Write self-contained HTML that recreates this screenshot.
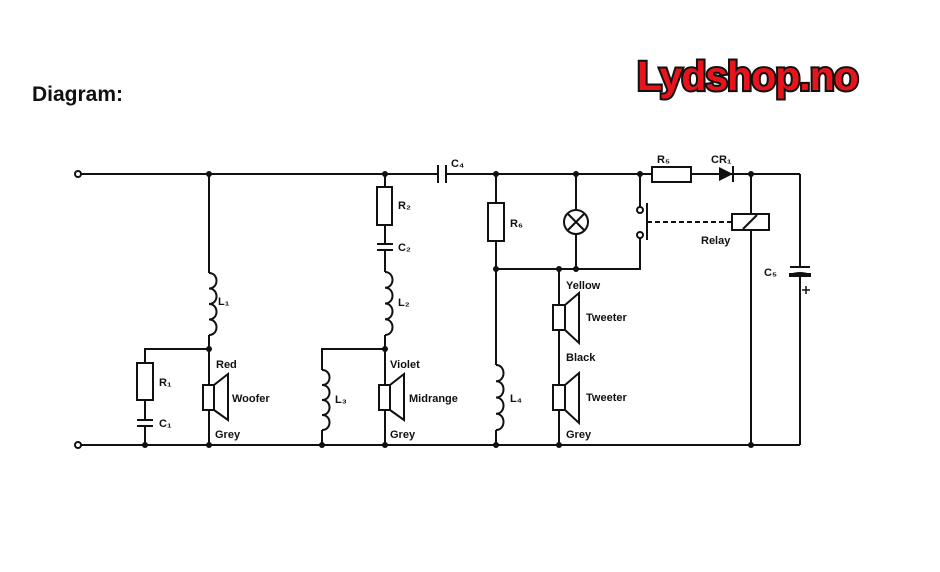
<!DOCTYPE html>
<html><head><meta charset="utf-8"><style>
html,body{margin:0;padding:0;background:#fff;}
svg{display:block;}
text{font-family:"Liberation Sans",sans-serif;font-weight:bold;fill:#111;}
</style></head><body>
<svg width="940" height="572" viewBox="0 0 940 572" xmlns="http://www.w3.org/2000/svg">
<rect width="940" height="572" fill="#fff"/>
<text x="32" y="101" font-size="21">Diagram:</text>
<text x="637" y="90" font-size="41" fill="#e8141b" stroke="#111" stroke-width="4" paint-order="stroke" style="fill:#e8141b" letter-spacing="-1">Lydshop.no</text>
<g stroke="#111" stroke-width="2" fill="none">
<!-- rails -->
<line x1="81" y1="174" x2="438" y2="174"/>
<line x1="446" y1="174" x2="652" y2="174"/>
<line x1="691" y1="174" x2="800" y2="174"/>
<line x1="81" y1="445" x2="800" y2="445"/>
<line x1="800" y1="174" x2="800" y2="267"/>
<line x1="800" y1="275" x2="800" y2="445"/>
<circle cx="78" cy="174" r="3" fill="#fff"/>
<circle cx="78" cy="445" r="3" fill="#fff"/>
<!-- C4 -->
<line x1="438" y1="165" x2="438" y2="183"/><line x1="446" y1="165" x2="446" y2="183"/>
<!-- woofer branch -->
<line x1="209" y1="174" x2="209" y2="273"/>
<path d="M209 273 c10 0 10 15.5 0 15.5 c10 0 10 15.5 0 15.5 c10 0 10 15.5 0 15.5 c10 0 10 15.5 0 15.5"/>
<line x1="209" y1="335" x2="209" y2="385"/>
<line x1="209" y1="410" x2="209" y2="445"/>
<rect x="203" y="385" width="11" height="25"/>
<path d="M214 385 L228 374 L228 420 L214 410"/>
<polyline points="209,349 145,349 145,363"/>
<rect x="137" y="363" width="16" height="37"/>
<line x1="145" y1="400" x2="145" y2="420"/>
<line x1="137" y1="420" x2="153" y2="420"/><line x1="137" y1="426" x2="153" y2="426"/>
<line x1="145" y1="426" x2="145" y2="445"/>
<!-- midrange branch -->
<line x1="385" y1="174" x2="385" y2="187"/>
<rect x="377" y="187" width="15" height="38"/>
<line x1="385" y1="225" x2="385" y2="244"/>
<line x1="377" y1="244" x2="393" y2="244"/><line x1="377" y1="250" x2="393" y2="250"/>
<line x1="385" y1="250" x2="385" y2="272"/>
<path d="M385 272 c10 0 10 15.75 0 15.75 c10 0 10 15.75 0 15.75 c10 0 10 15.75 0 15.75 c10 0 10 15.75 0 15.75"/>
<line x1="385" y1="335" x2="385" y2="385"/>
<line x1="385" y1="410" x2="385" y2="445"/>
<rect x="379" y="385" width="11" height="25"/>
<path d="M390 385 L404 374 L404 420 L390 410"/>
<polyline points="385,349 322,349 322,370"/>
<path d="M322 370 c10 0 10 15 0 15 c10 0 10 15 0 15 c10 0 10 15 0 15 c10 0 10 15 0 15"/>
<line x1="322" y1="430" x2="322" y2="445"/>
<!-- R6/L4 -->
<line x1="496" y1="174" x2="496" y2="203"/>
<rect x="488" y="203" width="16" height="38"/>
<line x1="496" y1="241" x2="496" y2="365"/>
<path d="M496 365 c10 0 10 16.25 0 16.25 c10 0 10 16.25 0 16.25 c10 0 10 16.25 0 16.25 c10 0 10 16.25 0 16.25"/>
<line x1="496" y1="430" x2="496" y2="445"/>
<polyline points="496,269 640,269 640,235"/>
<!-- lamp -->
<line x1="576" y1="174" x2="576" y2="210"/>
<circle cx="576" cy="222" r="12"/>
<line x1="567.5" y1="213.5" x2="584.5" y2="230.5"/><line x1="584.5" y1="213.5" x2="567.5" y2="230.5"/>
<line x1="576" y1="234" x2="576" y2="269"/>
<!-- tweeters -->
<line x1="559" y1="269" x2="559" y2="305"/>
<rect x="553" y="305" width="12" height="25"/>
<path d="M565 305 L579 293 L579 343 L565 330"/>
<line x1="559" y1="330" x2="559" y2="385"/>
<rect x="553" y="385" width="12" height="25"/>
<path d="M565 385 L579 373 L579 423 L565 410"/>
<line x1="559" y1="410" x2="559" y2="445"/>
<!-- switch -->
<line x1="640" y1="174" x2="640" y2="207"/>
<circle cx="640" cy="210" r="3" fill="#fff"/>
<circle cx="640" cy="235" r="3" fill="#fff"/>
<line x1="647" y1="203" x2="647" y2="240"/>
<line x1="647" y1="222" x2="732" y2="222" stroke-dasharray="5,3"/>
<!-- R5 -->
<rect x="652" y="167" width="39" height="15"/>
<!-- relay -->
<line x1="751" y1="174" x2="751" y2="445"/>
<rect x="732" y="214" width="37" height="16" fill="#fff"/>
<line x1="743" y1="229" x2="757" y2="215"/>
<!-- C5 -->
<line x1="790" y1="267" x2="810" y2="267"/>
<path d="M790 275 Q800 271 810 275" />
<rect x="790" y="274" width="20" height="2" fill="#111"/>
<line x1="806" y1="286" x2="806" y2="294" stroke-width="1.5"/><line x1="802" y1="290" x2="810" y2="290" stroke-width="1.5"/>
</g>
<!-- diode -->
<polygon points="719,167 733,174 719,181" fill="#111"/>
<line x1="733" y1="166" x2="733" y2="182" stroke="#111" stroke-width="2"/>
<!-- dots -->
<g fill="#111">
<circle cx="209" cy="174" r="3"/><circle cx="385" cy="174" r="3"/><circle cx="496" cy="174" r="3"/><circle cx="576" cy="174" r="3"/><circle cx="640" cy="174" r="3"/><circle cx="751" cy="174" r="3"/>
<circle cx="209" cy="349" r="3"/><circle cx="385" cy="349" r="3"/>
<circle cx="496" cy="269" r="3"/><circle cx="559" cy="269" r="3"/><circle cx="576" cy="269" r="3"/>
<circle cx="145" cy="445" r="3"/><circle cx="209" cy="445" r="3"/><circle cx="322" cy="445" r="3"/><circle cx="385" cy="445" r="3"/><circle cx="496" cy="445" r="3"/><circle cx="559" cy="445" r="3"/><circle cx="751" cy="445" r="3"/>
</g>
<g font-size="11">
<text x="451" y="167">C₄</text>
<text x="218" y="305">L₁</text>
<text x="159" y="386">R₁</text>
<text x="159" y="427">C₁</text>
<text x="216" y="368">Red</text>
<text x="232" y="402">Woofer</text>
<text x="215" y="438">Grey</text>
<text x="398" y="209">R₂</text>
<text x="398" y="251">C₂</text>
<text x="398" y="306">L₂</text>
<text x="335" y="403">L₃</text>
<text x="390" y="368">Violet</text>
<text x="409" y="402">Midrange</text>
<text x="390" y="438">Grey</text>
<text x="510" y="227">R₆</text>
<text x="510" y="402">L₄</text>
<text x="566" y="289">Yellow</text>
<text x="586" y="321">Tweeter</text>
<text x="566" y="361">Black</text>
<text x="586" y="401">Tweeter</text>
<text x="566" y="438">Grey</text>
<text x="657" y="163">R₅</text>
<text x="711" y="163">CR₁</text>
<text x="701" y="244">Relay</text>
<text x="764" y="276">C₅</text>
</g>
</svg>
</body></html>
